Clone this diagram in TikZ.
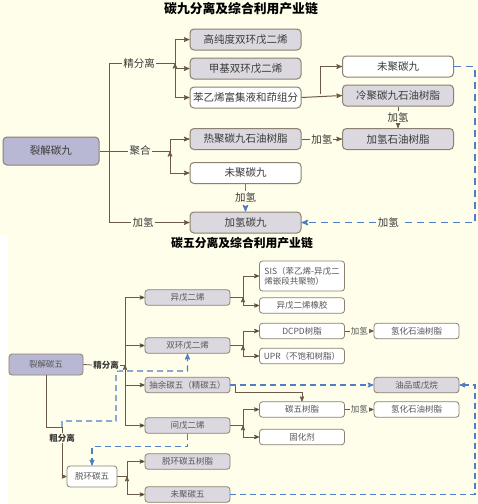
\documentclass[tikz,border=0pt]{standalone}
\usepackage{fontspec}
\setmainfont{Noto Sans CJK SC}
\usetikzlibrary{arrows, positioning}
\definecolor{bg}{HTML}{FFFEEA}
\definecolor{boxgray}{HTML}{DCD8E0}
\definecolor{boxsrc}{HTML}{B9B8D4}
\definecolor{rim}{HTML}{8C8070}
\definecolor{wire}{HTML}{6B5A48}
\definecolor{flow}{HTML}{4F7EC4}
\definecolor{ink}{HTML}{3A3A3A}

\begin{document}
\begin{tikzpicture}[x=1pt,y=-1pt,>=stealth',
  big node/.style={rectangle,rounded corners=4pt,draw=rim,line width=1pt,minimum width=111pt,
    minimum height=21pt,inner sep=0pt,text=ink,font=\fontsize{10.5}{12}\selectfont},
  gray node/.style={big node,fill=boxgray},
  plain node/.style={big node,fill=white},
  src node/.style={big node,fill=boxsrc,minimum width=96pt,minimum height=28pt},
  small node/.style={rectangle,rounded corners=3pt,draw=rim,line width=0.8pt,minimum width=85pt,
    minimum height=15.5pt,inner sep=0pt,text=ink!85,font=\fontsize{8.5}{10}\selectfont},
  small gray/.style={small node,fill=boxgray},
  small plain/.style={small node,fill=white},
  small src/.style={small node,fill=boxsrc,minimum width=74pt,minimum height=21pt},
  tag/.style={fill=bg,inner sep=1pt,text=ink,font=\fontsize{10.5}{12}\selectfont},
  tag5/.style={fill=bg,inner sep=1pt,text=ink!85,font=\fontsize{8.5}{10}\selectfont},
  wire line/.style={draw=wire,line width=1pt},
  thin line/.style={draw=wire,line width=0.8pt},
  flow line/.style={draw=flow,line width=1.3pt,dash pattern=on 7pt off 5pt},
  dash5/.style={draw=flow,line width=1.1pt,dash pattern=on 6pt off 4pt},
  elbow/.style={to path={|- (\tikztotarget)}}]
  \useasboundingbox (0,0) rectangle (478,504);
  \fill[bg] (0,0) rectangle (478,504);
  \fill[white] (0,235) rectangle (8,504);

  % C9 chain
  \node[font=\bfseries\fontsize{12.8}{14}\selectfont] (title9) at (241,9) {碳九分离及综合利用产业链};
  \node[gray node] (hp) at (245.5,39.5) {高纯度双环戊二烯};
  \node[gray node] (mdc) [below=7pt of hp] {甲基双环戊二烯};
  \node[plain node] (sty) [below=7pt of mdc] {苯乙烯富集液和茚组分};
  \node[plain node] (un9a) at (398,66.5) {未聚碳九};
  \node[gray node] (cold) [below=7pt of un9a] {冷聚碳九石油树脂};
  \node[src node] (c9) at (51,151) {裂解碳九};
  \node[gray node] (hot) at (245.5,139) {热聚碳九石油树脂};
  \node[plain node] (un9b) [below=12pt of hot] {未聚碳九};
  \node[gray node] (h9) at (245.5,222.5) {加氢碳九};
  \node[gray node] (hres) at (398,139) {加氢石油树脂};
  \node[tag] (fine9) at (139,63) {精分离};
  \node[tag] (poly9) at (140,151) {聚合};
  \node[tag] (hyd9) at (143,222.5) {加氢};
  \coordinate (j9) at (109,63);
  \coordinate (k9) at (175,63);
  \coordinate (p9) at (170,151);
  \coordinate (s9) at (320,94);

  \draw[wire line] (fine9.west) -- (j9) |- (hyd9.west);
  \draw[wire line] (c9.east) -- (poly9.west);
  \draw[wire line,->] (hyd9.east) -- (h9.west);
  \draw[wire line] (fine9.east) -- (k9);
  \path[wire line,->] (k9) edge[elbow] (hp.west)
    edge[elbow] (mdc.west)
    edge[elbow] (sty.west);
  \draw[wire line] (poly9.east) -- (p9);
  \path[wire line,->] (p9) edge[elbow] (hot.west)
    edge[elbow] (un9b.west);
  \draw[wire line,->] (sty.east) -- (cold.west);
  \draw[wire line,->] (s9) |- (un9a.west);
  \draw[wire line,->] (cold.south) -- node[tag] {加氢} (hres.north);
  \draw[wire line,->] (hot.east) -- node[tag] {加氢} (hres.west);
  \draw[flow line,->] (un9b.south) -- node[tag] {加氢} (h9.north);
  \draw[flow line,->] (un9a.east) -- (475,66.5) |- node[tag,pos=0.75] {加氢} (h9.east);

  % C5 chain
  \node[font=\bfseries\fontsize{11.8}{13}\selectfont] (title5) at (242,243) {碳五分离及综合利用产业链};
  \node[small src] (c5) at (46,364.5) {裂解碳五};
  \node[small gray] (ip) at (187.5,297.5) {异戊二烯};
  \node[small gray] (dcp) at (187.5,345.5) {双环戊二烯};
  \node[small gray] (raf) at (187.5,385) {抽余碳五（精碳五）};
  \node[small gray] (pip) at (187.5,425.5) {间戊二烯};
  \node[small plain,minimum height=30pt,align=left] (sis) at (302,276) {SIS（苯乙烯-异戊二\\烯嵌段共聚物）};
  \node[small plain] (ipr) at (302,305.5) {异戊二烯橡胶};
  \node[small plain] (dres) at (302,331) {DCPD树脂};
  \node[small plain] (upr) at (302,356) {UPR（不饱和树脂）};
  \node[small plain] (hres5a) at (416.5,331) {氢化石油树脂};
  \node[small gray] (oil) at (416.5,385) {油品或戊烷};
  \node[small plain] (c5res) at (302,409.5) {碳五树脂};
  \node[small plain] (hres5b) at (416.5,409.5) {氢化石油树脂};
  \node[small plain] (cure) at (302,437) {固化剂};
  \node[small plain,minimum width=50pt,minimum height=21pt] (dec) at (92,476.5) {脱环碳五};
  \node[small gray] (decres) at (187.5,461.5) {脱环碳五树脂};
  \node[small gray] (un5) at (187.5,494.5) {未聚碳五};
  \node[tag5,font=\bfseries\fontsize{8.5}{10}\selectfont,text=ink] (fine5) at (106,365) {精分离};
  \node[tag5,font=\bfseries\fontsize{8.5}{10}\selectfont,text=ink] (rough5) at (62,438) {粗分离};
  \coordinate (j5) at (125,365);
  \coordinate (a5) at (243,297.5);
  \coordinate (b5) at (243,345.5);
  \coordinate (d5) at (243,425.5);
  \coordinate (g5) at (127,476.5);
  \coordinate (cj) at (62,427);

  \draw[thin line] (c5.east) -- (fine5.west);
  \draw[thin line] (fine5.east) -- (j5);
  \path[thin line,->] (j5) edge[elbow] (ip.west)
    edge[elbow] (dcp.west)
    edge[elbow] (raf.west)
    edge[elbow] (pip.west);
  \draw[thin line] (ip.east) -- (a5);
  \path[thin line,->] (a5) edge[elbow] (sis.west)
    edge[elbow] (ipr.west);
  \draw[thin line] (dcp.east) -- (b5);
  \path[thin line,->] (b5) edge[elbow] (dres.west)
    edge[elbow] (upr.west);
  \draw[thin line,->] (dres.east) -- node[tag5] {加氢} (hres5a.west);
  \draw[thin line,->] (raf.east) -- ++(5,0) -- ++(0,7) -| (c5res.north);
  \draw[thin line] (pip.east) -- (d5);
  \path[thin line,->] (d5) edge[elbow] (c5res.west)
    edge[elbow] (cure.west);
  \draw[thin line,->] (c5res.east) -- node[tag5] {加氢} (hres5b.west);
  \draw[thin line] (c5.south) |- (cj) -- (rough5.north);
  \draw[thin line,->] (rough5.south) |- (dec.west);
  \draw[thin line] (dec.east) -- (g5);
  \path[thin line,->] (g5) edge[elbow] (decres.west)
    edge[elbow] (un5.west);

  \draw[dash5,->] (raf.east) -- (oil.west);
  \draw[dash5,->] (un5.east) -- (475,494.5) |- (oil.east);
  \draw[dash5,->] (pip.south) -- ++(0,13) -| (dec.north);
  \draw[dash5,->] (cj) |- (116,421) -- (116,376) .. controls (116,371) .. (121,371) -| (dcp.south);
\end{tikzpicture}
\end{document}
